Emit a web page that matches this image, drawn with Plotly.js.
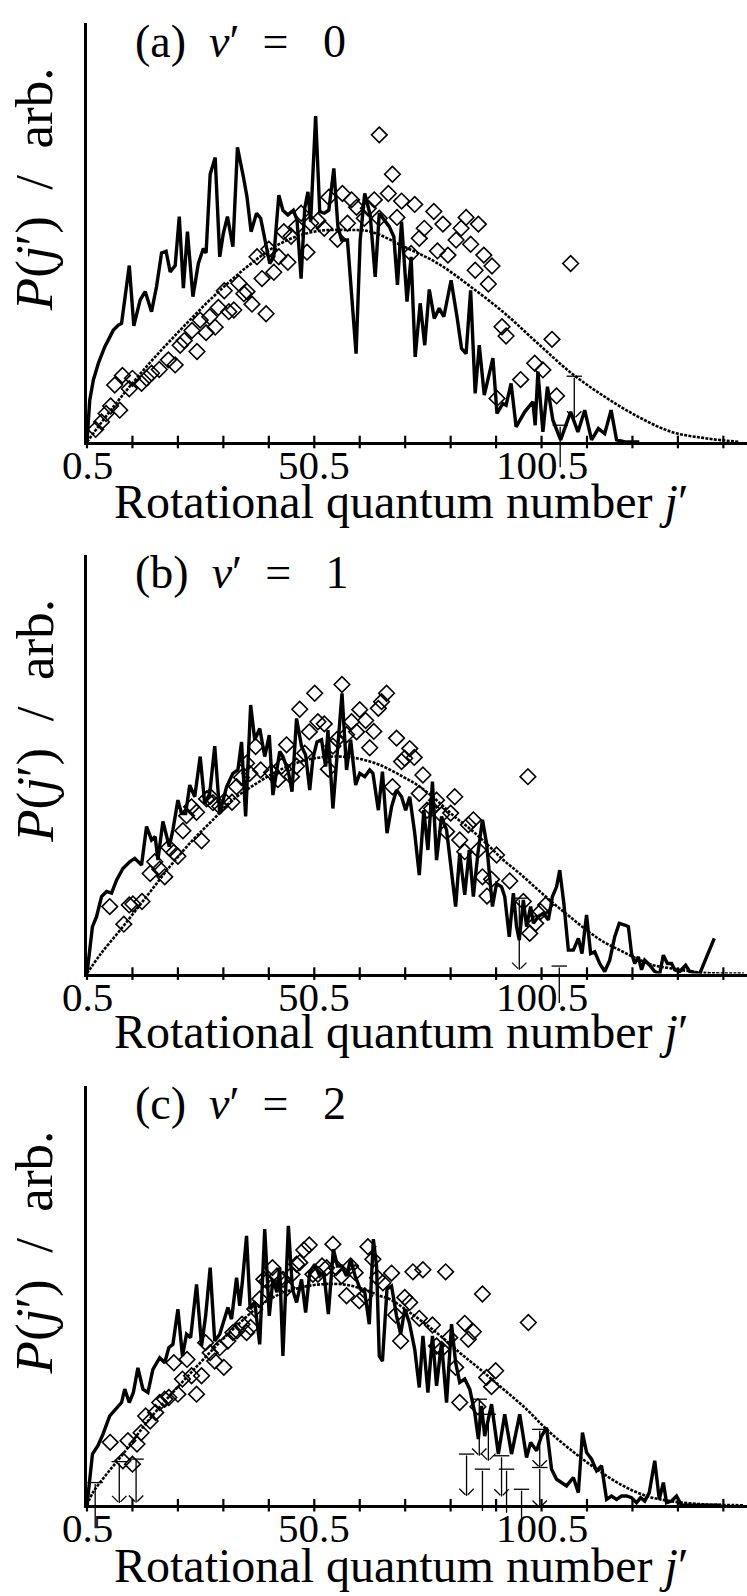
<!DOCTYPE html>
<html><head><meta charset="utf-8">
<script src="https://cdn.plot.ly/plotly-3.0.1.min.js"></script>
<style>html,body{margin:0;padding:0;background:#fff}#chart{width:747px;height:1596px}</style>
</head><body><div id="chart"></div>
<script>
// ---------- x ticks ----------
const tickVals = [0.5,10.5,20.5,30.5,40.5,50.5,60.5,70.5,80.5,90.5,100.5,110.5,120.5,130.5,140.5];
const tickText = ['0.5','','','','','50.5','','','','','100.5','','','',''];
const xRange = [0.5, 145.7];

// ---------- panel (a) v'=0 ----------
const aLineJ = [0.5,1.1,1.9,3.0,4.4,6.3,7.4,8.1,9.8,10.8,12.2,13.3,14.7,15.8,16.9,17.9,18.8,19.9,20.8,21.7,22.6,23.8,25.0,26.1,26.7,27.6,28.7,29.7,30.5,31.4,32.6,33.6,34.9,35.7,36.6,37.8,38.7,39.7,40.7,41.6,42.7,43.6,44.7,45.9,46.7,47.6,48.4,49.1,49.7,50.8,51.7,52.7,53.7,54.8,55.7,56.5,57.8,59.7,60.6,61.6,62.8,63.9,64.8,
  67.0,68.0,68.8,69.7,70.9,71.8,72.7,73.8,74.8,75.8,76.9,78.0,79.0,80.6,81.9,82.9,83.9,84.9,85.9,86.8,87.9,89.8,90.7,92.0,92.7,93.8,94.9,96.8,98.6,99.1,99.7,100.8,101.8,103.0,104.7,106.9,108.5,110.0,111.5,113.0,114.4,115.8,117.0,118.9,122.0];
const aLineV = [0,10.0,14.8,18.8,22.7,26.7,27.9,28.3,42.1,27.7,33.9,35.9,31.1,37.1,45.1,45.5,40.6,42.1,53.8,36.7,50.2,34.7,42.6,46.2,45.1,63.9,67.9,44.2,49.8,53.8,46.6,70.3,63.3,58.5,50.2,54.6,53.4,48.2,42.6,44.2,58.9,55.3,54.2,55.3,53.0,39.0,55.8,59.7,52.6,77.8,55.0,54.6,55.3,65.3,51.4,48.2,48.2,21.1,48.2,59.3,54.2,39.4,54.6,
  51.4,49.0,37.5,52.6,33.5,44.2,20.3,33.1,23.1,36.4,29.5,31.9,29.9,38.6,29.9,22.3,21.1,36.2,11.6,23.1,11.2,20.0,6.8,9.2,8.8,14.0,3.6,7.2,9.6,4.0,16.8,2.4,13.2,5.2,0.5,7.2,2.4,7.6,0.5,3.2,2.0,7.6,0.5,0,0];
const aPtsJ = [2.4,3.7,4.7,5.7,7.7,6.6,8.3,9.8,10.5,12.5,13.6,14.7,16.4,18.4,19.9,21.0,21.9,23.6,24.7,25.4,26.7,27.5,28.7,29.4,30.7,31.7,32.8,33.9,35.0,35.7,36.8,37.9,39.0,39.9,40.5,41.6,42.7,43.8,44.7,45.4,46.6,47.6,48.9,49.7,51.3,52.7,53.7,55.6,56.7,57.8,58.7,59.8,61.5,62.4,63.7,64.8,
  67.7,66.8,64.8,69.7,68.7,72.6,74.7,73.6,71.8,76.8,78.8,77.6,79.9,81.7,82.8,83.9,84.9,86.6,87.8,85.9,89.6,88.8,91.8,92.7,95.9,90.7,99.0,100.8,102.8,103.8,106.9];
const aPtsV = [3.0,4.8,6.8,8.6,7.6,13.6,15.9,12.7,15.2,14.0,15.2,16.4,17.3,19.6,18.4,23.1,24.2,26.6,21.6,29.1,26.1,29.9,27.4,32.1,36.1,31.1,31.5,37.9,35.4,35.9,32.9,44.2,39.0,30.6,46.0,40.5,44.2,50.2,42.9,49.1,51.4,54.6,45.3,52.2,52.8,51.0,58.4,48.4,59.3,52.2,57.8,56.0,53.4,55.8,57.8,73.3,
  63.9,59.3,53.4,57.5,53.6,56.7,51.0,48.6,45.0,55.0,52.0,45.6,44.6,48.2,51.0,53.6,47.2,52.0,44.6,41.0,42.0,37.7,27.5,25.3,14.9,10.4,18.8,17.2,24.5,11.0,42.6];
const aFitJ = [0.5,6.3,13.6,21.0,28.3,35.7,43.1,50.4,57.8,62.9,70.3,77.7,85.0,92.4,99.7,107.1,114.4,121.8,129.1,136.5,143.9];
const aFitV = [0,8.4,18.0,26.7,34.7,41.8,47.4,50.2,50.6,50.2,46.6,42.6,37.0,30.7,23.5,16.4,10.8,6.0,2.4,0.9,0.05];
const aLimJ = [107.7,104.6];
const aLimTop = [15.7,4.0];
const aLimTip = [5.6,-6.0];
const aLimHead = [1,0];

// ---------- panel (b) v'=1 ----------
const bLineJ = [0.5,1.1,1.7,2.6,3.7,4.8,5.9,7.0,8.4,9.9,11.0,12.5,13.6,14.7,15.5,16.1,17.2,18.6,19.4,20.5,21.3,22.2,23.1,24.2,25.4,26.4,27.5,28.6,29.7,31.2,32.6,33.7,34.5,35.4,36.5,37.4,38.5,39.6,40.6,41.4,42.2,42.9,43.6,44.8,45.6,46.6,47.7,48.6,49.5,50.2,51.1,52.1,53.0,53.5,54.6,55.5,56.6,57.6,58.5,59.6,60.5,61.6,62.7,63.4,64.6,
  65.5,66.5,67.5,68.6,69.7,70.6,71.5,72.6,73.6,74.6,75.5,76.5,77.4,78.5,79.6,80.7,81.6,82.5,83.6,84.6,85.5,86.5,87.5,88.4,89.1,89.7,90.6,91.7,92.4,93.4,94.3,95.0,95.6,96.5,97.2,98.1,98.7,99.8,100.9,102.0,102.9,103.8,104.5,105.4,106.4,107.5,108.6,109.4,110.4,111.3,112.2,113.3,114.4,115.5,116.6,117.6,118.8,119.6,120.3,121.0,121.8,122.5,123.2,124.3,125.4,126.5,127.3,128.2,129.1,129.8,130.9,132.2,133.1,135.3,138.5];
const bLineV = [0,6.4,11.2,13.6,18.4,19.6,19.2,22.3,25.1,26.7,27.5,25.9,35.1,31.9,32.7,27.1,36.3,30.3,34.3,41.4,38.2,38.2,45.0,42.2,51.8,40.6,43.0,54.3,38.2,44.6,47.8,48.6,55.3,37.5,64.1,55.8,58.5,51.8,56.9,42.6,47.8,53.0,51.8,48.2,43.4,60.9,54.2,52.2,43.8,51.4,55.3,55.8,49.4,58.1,39.4,52.2,66.9,48.6,55.8,45.0,47.8,47.0,48.6,47.8,39.0,
  48.2,33.5,39.8,43.8,42.2,39.0,42.2,33.5,23.5,39.0,29.5,45.8,27.1,37.5,34.3,24.7,16.0,28.7,18.8,29.5,18.4,28.7,36.7,31.1,23.9,16.0,21.5,20.7,18.4,8.8,19.2,11.2,8.0,17.6,11.2,16.0,12.0,13.6,14.4,12.8,18.4,20.7,24.7,16.8,5.6,5.6,8.4,4.8,14.0,4.8,5.2,2.4,0.5,3.2,8.8,12.0,11.6,11.2,4.8,2.4,4.0,0.9,3.2,2.0,0.5,0,4.4,2.4,2.4,0.9,0.5,2.0,0.5,0,8.4];
const bPtsJ = [5.5,8.6,9.8,10.6,12.6,14.4,15.4,16.5,17.6,18.5,19.6,20.5,21.6,22.4,23.5,24.6,25.7,26.8,27.6,28.2,29.7,30.8,32.4,33.4,34.5,35.6,36.3,37.6,38.7,41.1,42.5,43.3,44.4,45.5,46.6,47.3,48.4,49.4,50.6,51.3,52.7,53.6,54.6,55.5,56.6,57.6,58.7,59.8,60.5,61.8,62.7,63.6,64.6,
  66.4,65.3,68.6,71.5,69.7,70.4,72.5,74.4,67.7,73.6,77.4,81.4,76.3,75.3,78.5,80.5,79.6,84.4,85.5,82.5,83.6,86.6,90.6,87.5,89.5,88.5,93.5,96.5,97.5,101.4,100.3,99.2,97.9];
const bPtsV = [16.0,11.8,16.4,16.6,17.2,23.9,26.7,24.9,23.1,30.1,28.9,28.0,34.1,37.7,39.8,38.5,31.7,41.7,42.3,40.8,39.9,41.2,40.9,44.6,46.8,50.2,47.8,54.2,48.6,48.0,46.3,49.5,54.6,47.0,49.5,63.1,52.6,57.7,66.9,60.1,59.6,48.8,54.3,55.9,69.0,57.0,60.1,57.7,63.0,60.4,53.9,57.8,63.3,
  66.9,64.9,56.2,53.7,50.6,51.4,51.6,47.4,44.6,43.0,41.4,42.2,39.4,39.0,37.9,38.3,33.9,35.5,36.7,31.9,29.1,29.5,28.3,23.1,22.5,18.5,22.1,17.2,47.0,16.4,14.8,12.0,9.6];
const bFitJ = [0.5,3.3,8.4,13.6,18.7,23.8,28.2,32.6,37.8,42.9,48.8,54.6,59.8,64.9,70.0,73.7,77.4,81.0,84.7,88.4,92.1,95.7,99.4,103.1,106.7,110.4,114.1,117.7,121.4,125.1,128.7,136.1,145.0];
const bFitV = [0,4.4,11.2,18.4,25.5,31.9,36.7,41.5,45.4,48.6,51.0,51.8,51.4,49.8,47.0,44.6,41.4,37.8,34.6,31.0,27.1,23.9,20.3,16.8,13.6,10.4,7.6,5.6,3.6,2.0,1.3,0.2,0];
const bLimJ = [95.6,104.4];
const bLimTop = [18.0,1.8];
const bLimTip = [0.9,-7.0];
const bLimHead = [1,0];

// ---------- panel (c) v'=2 ----------
const cLineJ = [0.5,1.1,1.7,2.9,4.0,5.5,7.0,8.1,8.8,9.8,10.7,11.7,12.8,13.9,15.0,16.5,17.6,18.5,19.4,20.5,21.5,22.4,23.3,24.6,25.7,26.6,27.6,28.6,29.7,30.8,31.5,32.3,33.4,34.1,34.7,35.6,36.4,37.4,38.5,39.6,40.6,41.4,42.3,42.9,43.6,44.8,45.7,46.6,47.7,48.6,49.5,50.6,51.7,52.6,53.6,54.7,55.6,56.5,57.6,58.5,59.5,60.6,61.6,62.6,63.5,64.2,64.8,
  65.5,66.5,67.5,68.6,69.5,70.4,71.4,72.6,73.6,74.4,75.5,76.5,77.4,78.5,79.6,80.7,81.6,82.5,83.6,84.7,85.8,86.6,87.3,88.0,89.5,91.0,92.4,93.9,95.7,97.2,98.1,99.4,100.5,101.6,102.7,103.8,106.0,107.5,108.6,109.5,110.4,111.5,112.6,113.7,114.8,115.9,117.0,118.1,119.2,120.3,121.4,122.3,123.2,124.2,125.4,126.4,127.3,128.0,129.1,130.2,131.3,140.0];
const cLineV = [0,7.0,12.2,14.2,16.9,21.3,23.3,24.5,27.7,24.5,26.9,32.8,27.7,26.9,32.4,35.2,34.0,37.6,38.4,46.8,35.6,40.8,40.0,52.7,38.0,45.2,56.7,39.2,40.8,44.4,47.2,44.4,54.3,47.6,53.5,64.3,46.8,48.4,38.4,65.9,45.2,53.9,50.8,56.7,35.6,66.7,51.6,48.4,53.9,46.0,55.5,57.5,54.7,55.5,45.6,61.1,57.1,57.1,54.7,58.7,54.7,51.6,50.8,43.2,63.5,57.1,35.6,
  34.4,51.6,52.3,45.2,40.8,46.8,43.6,37.2,28.1,40.4,26.9,40.4,28.5,38.8,24.5,43.2,34.0,29.3,30.1,27.7,22.1,15.8,23.7,16.5,24.1,12.2,21.7,12.2,21.7,11.4,15.0,13.0,16.5,18.5,8.6,6.2,4.6,6.6,3.0,17.3,12.6,11.0,8.2,9.4,1.4,2.2,1.4,2.2,2.2,1.8,0.6,1.8,1.0,3.0,10.6,1.4,5.4,0.6,1.0,2.2,0,0];
const cPtsJ = [5.6,8.4,9.5,10.5,11.5,12.4,13.4,14.4,15.6,16.5,17.6,18.5,19.6,20.5,21.5,22.5,23.5,24.6,25.7,26.6,27.6,28.6,29.7,30.6,31.5,32.6,33.5,34.6,35.6,36.5,37.4,38.5,39.4,40.1,41.3,42.3,43.6,44.5,45.6,46.6,47.3,48.2,49.4,50.2,51.3,52.2,53.2,54.6,55.3,56.5,57.6,58.5,59.5,60.4,61.6,62.3,63.4,64.4,
  67.5,65.6,72.2,74.4,79.4,87.5,70.4,71.5,68.4,69.5,73.6,76.5,77.4,78.5,80.3,83.6,85.5,84.4,81.6,82.5,86.5,88.4,90.4,89.5,97.6];
const cPtsV = [15.0,10.6,15.4,9.8,14.6,17.3,21.3,20.1,22.1,24.5,25.3,25.7,34.0,26.5,30.1,34.8,30.9,26.5,30.9,38.8,36.4,34.4,37.6,32.9,39.2,41.2,41.6,43.2,41.2,42.4,46.8,49.2,53.9,53.5,56.7,54.7,53.9,51.9,55.1,57.5,57.9,60.9,62.1,55.1,55.1,57.1,56.7,62.3,56.7,54.7,50.0,57.1,55.5,48.8,50.0,61.7,58.7,54.3,
  55.4,53.1,55.7,56.2,55.7,50.4,49.6,48.4,45.4,39.2,44.6,43.0,38.0,37.2,40.0,43.4,41.4,39.6,32.9,24.5,23.5,30.5,32.1,28.3,43.6];
const cFitJ = [0.5,1.8,4.8,8.4,13.6,18.7,23.1,28.2,33.4,38.5,42.9,47.3,51.7,56.8,61.2,64.9,67.1,71.5,77.4,82.5,86.9,92.1,97.2,101.6,106.7,112.6,118.5,123.6,128.7,136.1,145.0];
const cFitV = [0,3.0,7.4,12.2,19.7,26.1,31.3,37.2,42.8,47.6,50.4,51.9,52.7,52.7,51.6,50.0,49.2,46.0,41.2,36.4,32.5,27.7,22.9,18.1,13.4,8.6,4.6,2.2,1.0,0.2,0];
const cLimJ = [2.3,7.6,11.3,84.0,86.8,87.5,88.8,91.7,92.8,96.1,100.1,100.1];
const cLimTop = [5.4,10.4,11.0,12.2,25.3,8.6,21.7,11.8,8.6,3.8,18.1,9.0];
const cLimTip = [-5.5,0.5,0.6,2.2,11.8,-1.4,10.6,2.1,-1.8,-6.1,9.0,-0.6];
const cLimHead = [1,1,1,1,1,1,1,1,1,1,1,1];

const panelLabels = ['(a)','(b)','(c)'];
const vibLevels = ['0','1','2'];

// ---------- build ----------
const FONT = '"Liberation Serif", "Times New Roman", serif';
const NB = '\u00A0';
const panels = [
  {line:[aLineJ,aLineV], pts:[aPtsJ,aPtsV], fit:[aFitJ,aFitV], lim:[aLimJ,aLimTop,aLimTip,aLimHead]},
  {line:[bLineJ,bLineV], pts:[bPtsJ,bPtsV], fit:[bFitJ,bFitV], lim:[bLimJ,bLimTop,bLimTip,bLimHead]},
  {line:[cLineJ,cLineV], pts:[cPtsJ,cPtsV], fit:[cFitJ,cFitV], lim:[cLimJ,cLimTop,cLimTip,cLimHead]}
];
const W = 747, H = 1596, ML = 87.3;
const doms = [[0.72306,0.98559],[0.38997,0.65251],[0.05689,0.31942]];
const labelY = [41.4, 572.5, 1103];
const tickLabelY = [465, 996.5, 1528];
const xTitleY = [501.2, 1031.5, 1565];
const yTitleY = [189.5, 721.1, 1252.7];
const px2x = p => (p - ML) / (W - ML);
const px2y = p => 1 - p / H;
// arrow-head (open V) geometry: half-arm size in px, converted with the axis scale
const HEAD_PX = 4.2;
const pxPerJ = (W - ML) / (xRange[1] - xRange[0]);
const pxPerV = 419 / 100;

const traces = [];
const layout = {
  width: W, height: H, margin: {l: ML, r: 0, t: 0, b: 0},
  paper_bgcolor: '#fff', plot_bgcolor: 'rgba(0,0,0,0)', showlegend: false,
  annotations: []
};

panels.forEach((p, i) => {
  const s = i === 0 ? '' : String(i + 1);
  const xa = 'x' + s, ya = 'y' + s;
  traces.push({x: p.line[0], y: p.line[1], mode: 'lines', xaxis: xa, yaxis: ya,
    line: {color: '#000', width: 3.4}, hoverinfo: 'skip'});
  traces.push({x: p.fit[0], y: p.fit[1], mode: 'lines', xaxis: xa, yaxis: ya,
    line: {color: '#000', width: 2.6, dash: '3px,1.3px', shape: 'spline'}, hoverinfo: 'skip'});
  traces.push({x: p.pts[0], y: p.pts[1], mode: 'markers', xaxis: xa, yaxis: ya,
    marker: {symbol: 'diamond-open', size: 12, color: '#000', line: {width: 1.6, color: '#000'}}, hoverinfo: 'skip'});
  // caps of upper-limit bars
  traces.push({x: p.lim[0], y: p.lim[1], mode: 'markers', xaxis: xa, yaxis: ya, cliponaxis: false,
    marker: {symbol: 'line-ew', size: 11, color: '#000', line: {width: 1.3, color: '#000'}}, hoverinfo: 'skip'});
  // open V arrow heads: two slanted strokes meeting at the tip
  const hj = [], hv = [], kj = [], kv = [];
  p.lim[0].forEach((j, k) => {
    if (!p.lim[3][k]) return;
    const t = p.lim[2][k];
    hj.push(j - HEAD_PX / pxPerJ); hv.push(t + HEAD_PX / pxPerV);
    kj.push(j + HEAD_PX / pxPerJ); kv.push(t + HEAD_PX / pxPerV);
  });
  traces.push({x: hj, y: hv, mode: 'markers', xaxis: xa, yaxis: ya, cliponaxis: false,
    marker: {symbol: 'line-nw', size: HEAD_PX / 0.7, color: '#000', line: {width: 1.3, color: '#000'}}, hoverinfo: 'skip'});
  traces.push({x: kj, y: kv, mode: 'markers', xaxis: xa, yaxis: ya, cliponaxis: false,
    marker: {symbol: 'line-ne', size: HEAD_PX / 0.7, color: '#000', line: {width: 1.3, color: '#000'}}, hoverinfo: 'skip'});
  // crossing tick marks on the baseline, at the axis tick values
  traces.push({x: tickVals, y: tickVals.map(() => 0), mode: 'markers', xaxis: xa, yaxis: ya, cliponaxis: false,
    marker: {symbol: 'line-ns', size: 9, color: '#000', line: {width: 2.2, color: '#000'}}, hoverinfo: 'skip'});

  layout['xaxis' + s] = {
    domain: [0, 1], anchor: ya, range: xRange, tickmode: 'array', tickvals: tickVals, ticktext: tickText,
    ticks: '', showticklabels: false,
    showline: true, linewidth: 3, linecolor: '#000', showgrid: false, zeroline: false, fixedrange: true
  };
  layout['yaxis' + s] = {
    domain: doms[i], anchor: xa, range: [0, 100], showline: true, linewidth: 2.6, linecolor: '#000',
    ticks: '', showticklabels: false, showgrid: false, zeroline: false, fixedrange: true
  };

  // tick labels
  tickVals.forEach((t, k) => {
    if (!tickText[k]) return;
    layout.annotations.push({
      xref: xa, yref: 'paper', x: t, y: px2y(tickLabelY[i]), xanchor: 'center', yanchor: 'middle',
      text: tickText[k], showarrow: false, font: {family: FONT, size: 41, color: '#000'}
    });
  });

  // upper-limit bars (stems)
  p.lim[0].forEach((j, k) => {
    layout.annotations.push({
      xref: xa, yref: ya, axref: xa, ayref: ya, x: j, y: p.lim[2][k], ax: j, ay: p.lim[1][k],
      text: '', showarrow: true, arrowhead: 0, arrowwidth: 1.3,
      arrowcolor: '#000', standoff: 0, startstandoff: 0, font: {size: 1}
    });
  });

  // texts
  layout.annotations.push({
    xref: 'paper', yref: 'paper', x: px2x(133), y: px2y(labelY[i]), xanchor: 'left', yanchor: 'middle',
    text: panelLabels[i] + NB + NB + '<i>v</i>\u2032' + NB + NB + '=' + NB + NB + NB + vibLevels[i],
    showarrow: false, font: {family: FONT, size: 46, color: '#000'}
  });
  layout.annotations.push({
    xref: 'paper', yref: 'paper', x: px2x(401.4), y: px2y(xTitleY[i]), xanchor: 'center', yanchor: 'middle',
    text: 'Rotational quantum number <i>j</i>\u2032',
    showarrow: false, font: {family: FONT, size: 48, color: '#000'}
  });
  layout.annotations.push({
    xref: 'paper', yref: 'paper', x: px2x(35), y: px2y(yTitleY[i]), xanchor: 'center', yanchor: 'middle',
    textangle: -90, text: '<i>P</i>(<i>j</i>\u2032)' + NB + NB + '/' + NB + NB + 'arb.',
    showarrow: false, font: {family: FONT, size: 53, color: '#000'}
  });
});

Plotly.newPlot('chart', traces, layout, {staticPlot: true, displayModeBar: false});
</script></body></html>
